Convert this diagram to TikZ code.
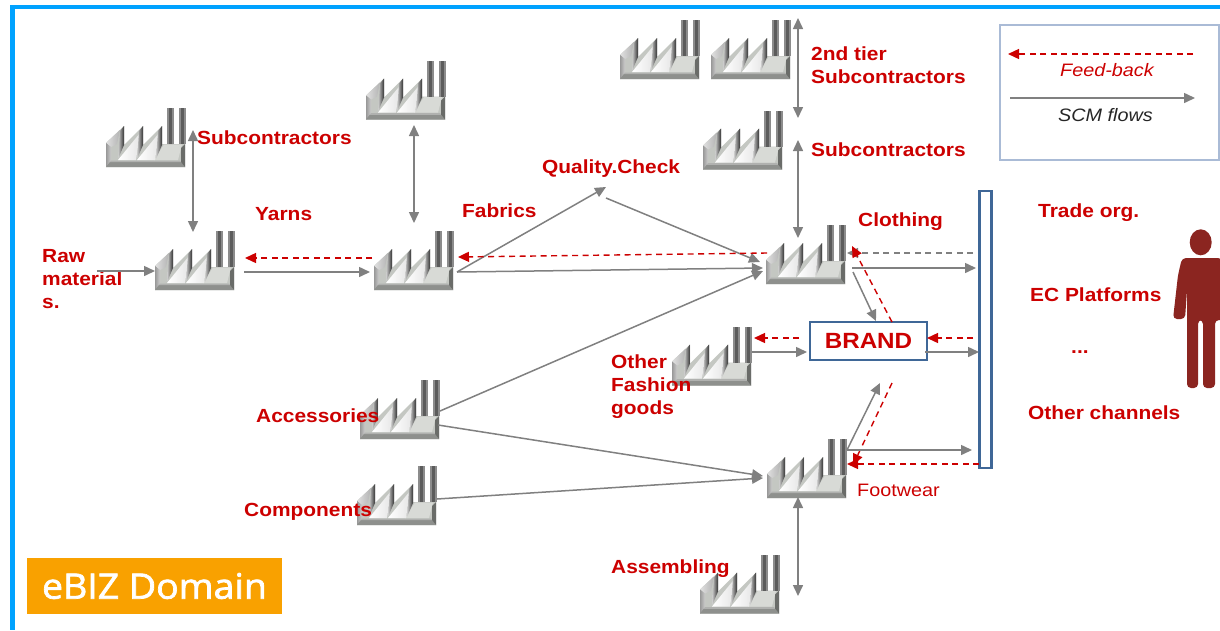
\documentclass[tikz,border=0pt]{standalone}
\usepackage{fontspec}
\setmainfont{Liberation Sans}[FakeStretch=1.1]
\newfontfamily\ebizfont{Open Sans}[FakeBold=2,FakeStretch=1.07]
\usetikzlibrary{arrows.meta}
\definecolor{redtxt}{HTML}{CC0000}
\definecolor{flowgray}{HTML}{808080}
\definecolor{framecy}{HTML}{00A2FF}
\definecolor{barblue}{HTML}{3F6797}
\definecolor{personred}{HTML}{8B2520}
\definecolor{ebizorange}{HTML}{F9A100}
\definecolor{legendline}{HTML}{AABBD6}
\definecolor{fbase}{HTML}{C4C7C2}
\definecolor{froof}{HTML}{D8DAD6}
\definecolor{fbevel}{HTML}{8E908D}
\definecolor{fdark}{HTML}{6A6C69}
\tikzset{
  x=1pt,y=-1pt,
  flow/.style={draw=flowgray,line width=1.5pt,-{Triangle[length=11pt,width=10pt]}},
  flowboth/.style={draw=flowgray,line width=1.5pt,{Triangle[length=11pt,width=10pt]}-{Triangle[length=11pt,width=10pt]}},
  feedback/.style={draw=redtxt,line width=1.4pt,dash pattern=on 6pt off 4.5pt,-{Triangle[length=11pt,width=10pt]}},
  grayback/.style={draw=flowgray,line width=1.4pt,dash pattern=on 6pt off 4.5pt,-{Triangle[length=11pt,width=10pt]}},
  lab/.style={text=redtxt,font=\fontsize{19}{23}\selectfont\bfseries,inner sep=0pt,anchor=base west},
  labm/.style={text=redtxt,font=\fontsize{19}{23}\selectfont\bfseries,inner sep=0pt,anchor=north west,align=left},
  factorybox/.style={minimum width=80pt,minimum height=59pt,inner sep=0pt,outer sep=0pt},
  factory/.pic={
    \begin{scope}[shift={(-40,-29.5)}]
      % silhouette and front wall
      \fill[fbase] (0,35) -- (18,18) -- (18,37) -- (37,18) -- (37,37) -- (56,18) -- (56,36) -- (79,36) -- (79,59) -- (0,59) -- cycle;
      % lit roof edge of first bay
      \shade[left color=black!12,right color=black!30] (0,35) -- (14,22) -- (11,36) -- (5,39) -- cycle;
      % left bevel
      \shade[left color=black!40,right color=black!20] (0,35) -- (5,39) -- (5,54) -- (0,59) -- cycle;
      % bottom bevel
      \fill[fbevel] (0,59) -- (79,59) -- (75,54) -- (4,54) -- cycle;
      \fill[fbevel!70!white] (4,54) -- (75,54) -- (74,52.5) -- (5,52.5) -- cycle;
      % right roof and bevel
      \fill[froof] (48,52) -- (58,36.5) -- (76,36.5) -- (72,52) -- cycle;
      \fill[fdark] (79,36) -- (79,59) -- (75,54) -- (75,40) -- cycle;
      % white slanted faces
      \shade[left color=white,right color=black!10] (12,52) -- (34,25) -- (30,52) -- cycle;
      \shade[left color=white,right color=black!10] (31,52) -- (53,25) -- (49,52) -- cycle;
      % dark wedges of the teeth
      \foreach \tx in {18,37,56} {
        \shade[left color=black!20,right color=black!80] (\tx-4,23) -- (\tx,18) -- (\tx,37) -- (\tx-6,51) -- cycle;
      }
      % chimneys
      \fill[black!45] (61,0) rectangle (67.5,36);
      \fill[black!64] (62.5,0) rectangle (66,36);
      \fill[black!45] (73,0) rectangle (79.5,36);
      \fill[black!64] (74.5,0) rectangle (78,36);
    \end{scope}
  }
}
\newcommand{\factorynode}[3]{%
  \node[factorybox] (#1) at (#2,#3) {};
  \pic at (#2,#3) {factory};
}
\begin{document}
\begin{tikzpicture}
\useasboundingbox (0,0) rectangle (1220,630);
\fill[white] (0,0) rectangle (1220,630);
% frame
\fill[framecy] (10,5) rectangle (1220,9);
\fill[framecy] (10,5) rectangle (14.5,630);
% factories
\factorynode{f1}{146}{137.5}
\factorynode{f2}{195}{260.5}
\factorynode{f3}{406}{90}
\factorynode{f4}{414}{260.5}
\factorynode{f5}{660}{49.5}
\factorynode{f6}{751}{49.5}
\factorynode{f7}{743}{140}
\factorynode{f8}{806}{254.5}
\factorynode{f9}{712}{356}
\factorynode{f10}{400}{409.5}
\factorynode{f11}{397}{495.5}
\factorynode{f12}{807}{468.5}
\factorynode{f13}{740}{584}
% boxes
\node[draw=barblue,line width=1.8pt,fill=white,minimum width=117pt,minimum height=38pt,inner sep=0pt,text=redtxt,font=\fontsize{22}{24}\selectfont\bfseries] (brand) at (868.5,341) {BRAND};
\node[draw=barblue,line width=2.6pt,fill=white,minimum width=12pt,minimum height=277pt,inner sep=0pt] (bar) at (985.5,329.5) {};
\node[draw=legendline,line width=1.3pt,fill=white,minimum width=219pt,minimum height=135pt,inner sep=0pt] (legend) at (1109.5,92.5) {};
\node[fill=ebizorange,minimum width=255pt,minimum height=56pt,inner sep=0pt,text=white,font=\ebizfont\fontsize{35}{38}\selectfont] (ebiz) at (154.5,586) {eBIZ Domain};
% labels
\node[labm] (raw) at (42,249) {Raw\\material\\s.};
\node[lab] (lsub1) at (197,144) {Subcontractors};
\node[lab] (lyarns) at (255,220) {Yarns};
\node[lab] (lfab) at (462,217) {Fabrics};
\node[lab] (qc) at (542,173) {Quality.Check};
\node[labm] (ltier) at (811,47) {2nd tier\\Subcontractors};
\node[lab] (lsub2) at (811,156) {Subcontractors};
\node[lab] (lcloth) at (858,226) {Clothing};
\node[lab] (ltrade) at (1038,217) {Trade org.};
\node[lab] (lec) at (1030,301) {EC Platforms};
\node[lab] (ldots) at (1071,353) {...};
\node[lab] (lother) at (1028,419) {Other channels};
\node[lab,font=\fontsize{18}{22}\selectfont] (lfoot) at (857,496) {Footwear};
\node[labm] (lfash) at (611,355) {Other\\Fashion\\goods};
\node[lab] (lacc) at (256,422) {Accessories};
\node[lab] (lcomp) at (244,516) {Components};
\node[lab] (lass) at (611,573) {Assembling};
\node[lab,font=\fontsize{18}{22}\selectfont\itshape] (lfeed) at (1060,76) {Feed-back};
\node[lab,text=black!85,font=\fontsize{18}{22}\selectfont\itshape] (lscm) at (1058,121) {SCM flows};
\coordinate (rawin) at (97,271);
% connectors
\draw[flow] (rawin) -- ([shift={(-40,10.5)}]f2.center);
\draw[flowboth] ([shift={(47,-7.5)}]f1.center) -- ([shift={(-2,-28.5)}]f2.center);
\draw[flowboth] ([shift={(8,35)}]f3.center) -- ([shift={(0,-37.5)}]f4.center);
\draw[flow] ([shift={(49,11.5)}]f2.center) -- ([shift={(-44,11.5)}]f4.center);
\draw[feedback] ([shift={(-42,-2.5)}]f4.center) -- ([shift={(50,-2.5)}]f2.center);
\draw[flow] ([shift={(43,11.5)}]f4.center) -- ([shift={(64,14)}]qc.base west);
\draw[flow] ([shift={(64,25)}]qc.base west) -- ([shift={(-46,7.5)}]f8.center);
\draw[flow] ([shift={(43,11.5)}]f4.center) -- ([shift={(-43,13.5)}]f8.center);
\draw[feedback] ([shift={(-39,-1.5)}]f8.center) -- ([shift={(44,-3.5)}]f4.center);
\draw[flowboth] ([shift={(47,-31.5)}]f6.center) -- ([shift={(55,-22)}]f7.center);
\draw[flowboth] ([shift={(55,0)}]f7.center) -- ([shift={(-8,-16.5)}]f8.center);
\draw[flow] ([shift={(46,13.5)}]f8.center) -- ([shift={(-9.5,-61.5)}]bar.center);
\draw[grayback] ([shift={(-12.5,-76.5)}]bar.center) -- ([shift={(41,-1.5)}]f8.center);
\draw[flow] ([shift={(47,17.5)}]f8.center) -- ([shift={(7.5,-20)}]brand.center);
\draw[feedback] ([shift={(23.5,-19)}]brand.center) -- ([shift={(46,-8.5)}]f8.center);
\draw[flow] ([shift={(40,-4)}]f9.center) -- ([shift={(-61.5,11)}]brand.center);
\draw[feedback] ([shift={(-69.5,-3)}]brand.center) -- ([shift={(42,-18)}]f9.center);
\draw[flow] ([shift={(56.5,11)}]brand.center) -- ([shift={(-6.5,22.5)}]bar.center);
\draw[feedback] ([shift={(-12.5,8.5)}]bar.center) -- ([shift={(58.5,-3)}]brand.center);
\draw[flow] ([shift={(40,-18.5)}]f12.center) -- ([shift={(11.5,42)}]brand.center);
\draw[feedback] ([shift={(23.5,42)}]brand.center) -- ([shift={(46,-3.5)}]f12.center);
\draw[flow] ([shift={(40,-18.5)}]f12.center) -- ([shift={(-13.5,120.5)}]bar.center);
\draw[feedback] ([shift={(-6.5,134.5)}]bar.center) -- ([shift={(40,-4.5)}]f12.center);
\draw[flow] ([shift={(40,1.5)}]f10.center) -- ([shift={(-43,16.5)}]f8.center);
\draw[flow] ([shift={(38,15.5)}]f10.center) -- ([shift={(-44,7.5)}]f12.center);
\draw[flow] ([shift={(40,3.5)}]f11.center) -- ([shift={(-44,9.5)}]f12.center);
\draw[flowboth] ([shift={(-9,28.5)}]f12.center) -- ([shift={(58,12)}]f13.center);
\draw[feedback] ([shift={(83.5,-38.5)}]legend.center) -- ([shift={(-101.5,-38.5)}]legend.center);
\draw[flow] ([shift={(-99.5,5.5)}]legend.center) -- ([shift={(85.5,5.5)}]legend.center);
% person
\begin{scope}
\clip (1160,220) rectangle (1220,400);
\fill[personred] (1200.7,242.3) ellipse [x radius=11,y radius=13];
\fill[personred,rounded corners=4pt] (1178,275) -- (1182,258) -- (1222,258) -- (1228,275) -- (1226,320) -- (1215,320) -- (1215,388) -- (1203,388) -- (1203,320) -- (1198,320) -- (1198,388) -- (1187,388) -- (1187,290) -- (1185,319) -- (1173,319) -- cycle;
\end{scope}
\end{tikzpicture}
\end{document}
